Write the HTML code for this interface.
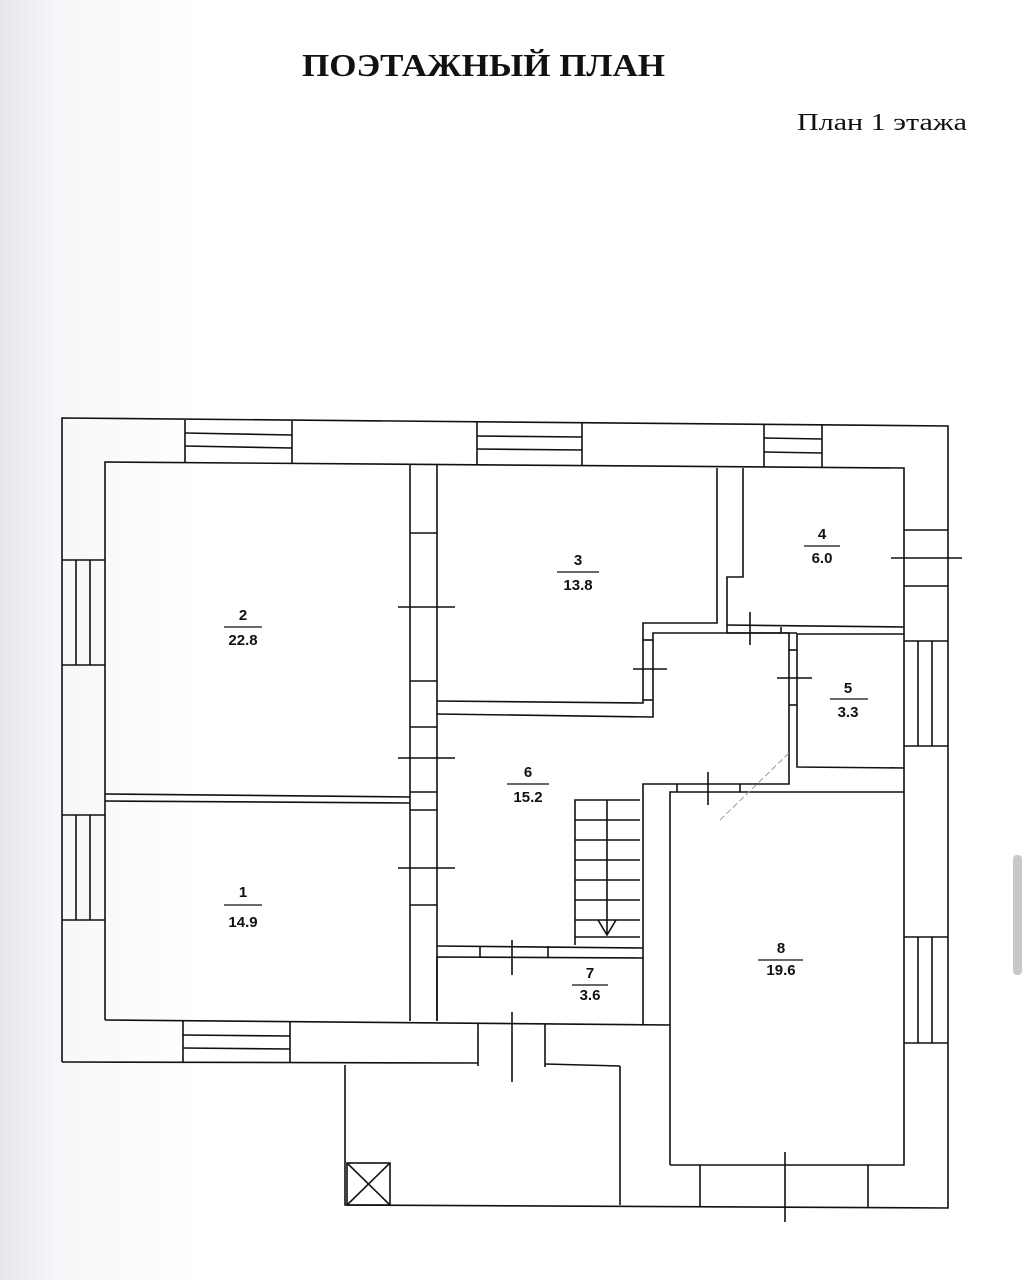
<!DOCTYPE html>
<html><head><meta charset="utf-8"><style>
html,body{margin:0;padding:0;background:#fff;}
body{width:1026px;height:1280px;position:relative;overflow:hidden;background:linear-gradient(90deg,#e6e8ee 0px,#f6f7f9 60px,#fff 200px);}
svg{position:absolute;left:0;top:0;}
</style></head><body>
<svg width="1026" height="1280" viewBox="0 0 1026 1280" xmlns="http://www.w3.org/2000/svg">
<g font-family="Liberation Serif, serif" fill="#111">
<text x="302" y="76" font-size="32" font-weight="bold" textLength="363" lengthAdjust="spacingAndGlyphs">ПОЭТАЖНЫЙ ПЛАН</text>
<text x="797" y="130" font-size="24" textLength="170" lengthAdjust="spacingAndGlyphs">План 1 этажа</text>
</g>
<rect x="1013" y="855" width="9" height="120" rx="4" fill="#c8c8c8"/>
<g stroke="#111" stroke-width="1.6" fill="none">
<!-- outer -->
<polyline points="62,1062 62,418 948,426 948,1208 345,1205 345,1065"/>
<line x1="62" y1="1062" x2="478" y2="1063"/>
<line x1="545" y1="1064" x2="620" y2="1066"/>
<line x1="620" y1="1066" x2="620" y2="1205"/>
<!-- inner outline -->
<polyline points="105,1020 105,462 904,468 904,1165 670,1165"/>
<line x1="105" y1="1020" x2="670" y2="1025"/>
<!-- top windows -->
<line x1="185" y1="420" x2="185" y2="462"/><line x1="292" y1="421" x2="292" y2="463"/>
<line x1="185" y1="433" x2="292" y2="435"/><line x1="185" y1="446" x2="292" y2="448"/>
<line x1="477" y1="422" x2="477" y2="464"/><line x1="582" y1="423" x2="582" y2="465"/>
<line x1="477" y1="436" x2="582" y2="437"/><line x1="477" y1="449" x2="582" y2="450"/>
<line x1="764" y1="425" x2="764" y2="467"/><line x1="822" y1="425" x2="822" y2="467"/>
<line x1="764" y1="438" x2="822" y2="439"/><line x1="764" y1="452" x2="822" y2="453"/>
<!-- left windows -->
<line x1="62" y1="560" x2="105" y2="560"/><line x1="62" y1="665" x2="105" y2="665"/>
<line x1="76" y1="560" x2="76" y2="665"/><line x1="90" y1="560" x2="90" y2="665"/>
<line x1="62" y1="815" x2="105" y2="815"/><line x1="62" y1="920" x2="105" y2="920"/>
<line x1="76" y1="815" x2="76" y2="920"/><line x1="90" y1="815" x2="90" y2="920"/>
<!-- bottom window & door -->
<line x1="183" y1="1021" x2="183" y2="1062"/><line x1="290" y1="1022" x2="290" y2="1063"/>
<line x1="183" y1="1035" x2="290" y2="1036"/><line x1="183" y1="1048" x2="290" y2="1049"/>
<line x1="478" y1="1023" x2="478" y2="1066"/><line x1="545" y1="1024" x2="545" y2="1067"/>
<line x1="512" y1="1012" x2="512" y2="1082"/>
<!-- right windows -->
<line x1="904" y1="530" x2="948" y2="530"/><line x1="904" y1="586" x2="948" y2="586"/>
<line x1="891" y1="558" x2="962" y2="558"/>
<line x1="904" y1="641" x2="948" y2="641"/><line x1="904" y1="746" x2="948" y2="746"/>
<line x1="918" y1="641" x2="918" y2="746"/><line x1="932" y1="641" x2="932" y2="746"/>
<line x1="904" y1="937" x2="948" y2="937"/><line x1="904" y1="1043" x2="948" y2="1043"/>
<line x1="918" y1="937" x2="918" y2="1043"/><line x1="932" y1="937" x2="932" y2="1043"/>
<!-- bottom of room 8 -->
<line x1="700" y1="1165" x2="700" y2="1207"/><line x1="868" y1="1165" x2="868" y2="1208"/>
<line x1="785" y1="1152" x2="785" y2="1222"/>
<!-- partition 2/3 -->
<line x1="410" y1="465" x2="410" y2="1021"/><line x1="437" y1="465" x2="437" y2="1021"/>
<line x1="410" y1="533" x2="437" y2="533"/><line x1="410" y1="681" x2="437" y2="681"/>
<line x1="410" y1="727" x2="437" y2="727"/><line x1="410" y1="792" x2="437" y2="792"/>
<line x1="410" y1="810" x2="437" y2="810"/><line x1="410" y1="905" x2="437" y2="905"/>
<line x1="398" y1="607" x2="455" y2="607"/><line x1="398" y1="758" x2="455" y2="758"/><line x1="398" y1="868" x2="455" y2="868"/>
<!-- wall 2/1 -->
<line x1="105" y1="794" x2="410" y2="797"/><line x1="105" y1="801" x2="410" y2="803"/>
<!-- room 3 -->
<polyline points="437,701 643,703 643,623 717,623 717,468"/>
<polyline points="437,714 653,717 653,633 789,633 789,784 643,784 643,1025"/>
<line x1="643" y1="640" x2="653" y2="640"/><line x1="643" y1="700" x2="653" y2="700"/>
<line x1="633" y1="669" x2="667" y2="669"/>
<!-- room 4 -->
<polyline points="743,468 743,577 727,577 727,633"/>
<line x1="727" y1="625" x2="904" y2="627"/>
<line x1="727" y1="633" x2="797" y2="633"/>
<line x1="750" y1="612" x2="750" y2="645"/>
<line x1="781" y1="627" x2="781" y2="633"/>
<!-- room 5 -->
<polyline points="904,634 797,634 797,767 904,768"/>
<line x1="789" y1="650" x2="797" y2="650"/><line x1="789" y1="705" x2="797" y2="705"/>
<line x1="777" y1="678" x2="812" y2="678"/>
<!-- room 8 -->
<polyline points="670,1165 670,792 904,792"/>
<line x1="677" y1="784" x2="677" y2="792"/><line x1="740" y1="784" x2="740" y2="792"/>
<line x1="708" y1="772" x2="708" y2="805"/>
<!-- stairs -->
<polyline points="640,800 575,800 575,945"/>
<line x1="607" y1="800" x2="607" y2="935"/>
<line x1="575" y1="820" x2="640" y2="820"/><line x1="575" y1="840" x2="640" y2="840"/>
<line x1="575" y1="860" x2="640" y2="860"/><line x1="575" y1="880" x2="640" y2="880"/>
<line x1="575" y1="900" x2="640" y2="900"/><line x1="575" y1="920" x2="640" y2="920"/>
<line x1="575" y1="937" x2="640" y2="937"/>
<polyline points="598,920 607,935 616,920"/>
<!-- room 7 -->
<line x1="437" y1="946" x2="643" y2="948"/>
<polyline points="643,958 437,957 437,1021"/>
<line x1="480" y1="946" x2="480" y2="957"/><line x1="548" y1="946" x2="548" y2="958"/>
<line x1="512" y1="940" x2="512" y2="975"/>
<!-- porch box -->
<rect x="347" y="1163" width="43" height="42"/>
<line x1="347" y1="1163" x2="390" y2="1205"/><line x1="390" y1="1163" x2="347" y2="1205"/>
</g>
<line x1="720" y1="820" x2="790" y2="752" stroke="#99a" stroke-width="1" stroke-dasharray="6,3"/>
<g font-family="Liberation Sans, sans-serif" font-weight="bold" font-size="15" fill="#111" text-anchor="middle">
<text x="243" y="620">2</text><text x="243" y="645">22.8</text>
<text x="243" y="897">1</text><text x="243" y="927">14.9</text>
<text x="578" y="565">3</text><text x="578" y="590">13.8</text>
<text x="822" y="539">4</text><text x="822" y="563">6.0</text>
<text x="848" y="693">5</text><text x="848" y="717">3.3</text>
<text x="528" y="777">6</text><text x="528" y="802">15.2</text>
<text x="590" y="978">7</text><text x="590" y="1000">3.6</text>
<text x="781" y="953">8</text><text x="781" y="975">19.6</text>
</g>
<g stroke="#111" stroke-width="1.3">
<line x1="224" y1="627" x2="262" y2="627"/><line x1="224" y1="905" x2="262" y2="905"/>
<line x1="557" y1="572" x2="599" y2="572"/><line x1="804" y1="546" x2="840" y2="546"/>
<line x1="830" y1="699" x2="868" y2="699"/><line x1="507" y1="784" x2="549" y2="784"/>
<line x1="572" y1="985" x2="608" y2="985"/><line x1="758" y1="960" x2="803" y2="960"/>
</g>
</svg>
</body></html>
